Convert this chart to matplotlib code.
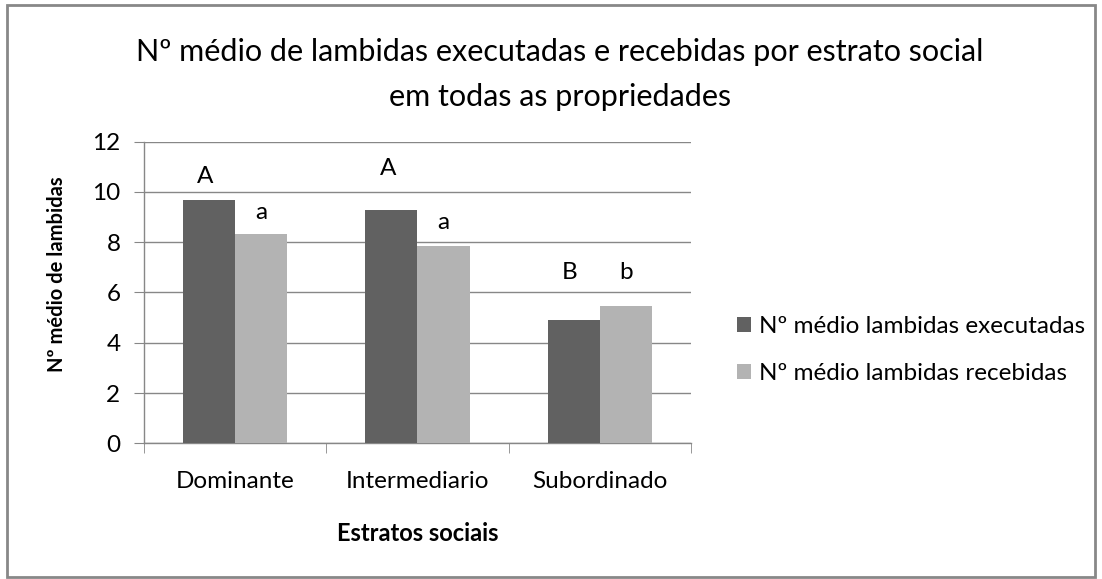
import matplotlib
matplotlib.use("Agg")
import matplotlib.pyplot as plt
from matplotlib.patches import Rectangle
import numpy as np

# ── Data ──────────────────────────────────────────────────────────────────────
categories = ["Dominante", "Intermediario", "Subordinado"]
executadas = [9.68, 9.28, 4.91]
recebidas = [8.33, 7.85, 5.47]
series_names = ["Nº médio lambidas executadas", "Nº médio lambidas recebidas"]
letters_exec = ["A", "A", "B"]
letters_exec_y = [10.6, 10.95, 6.78]
letters_rec = ["a", "a", "b"]
letters_rec_y = [9.2, 8.8, 6.78]
yticks = [0, 2, 4, 6, 8, 10, 12]
title_lines = ["Nº médio de lambidas executadas e recebidas por estrato social",
               "em todas as propriedades"]

DARK = "#616161"
LIGHT = "#b3b3b3"
GRID = "#878787"
FS = 17.5

plt.rcParams["font.family"] = ["Lato", "DejaVu Sans"]

fig = plt.figure(figsize=(11.02, 5.79), dpi=100)
ax = fig.add_axes([0.1307, 0.2344, 0.4963, 0.5209])

x = np.arange(len(categories))
w = 1 / 3.5
ax.bar(x - w / 2, executadas, w, color=DARK, label=series_names[0], zorder=3)
ax.bar(x + w / 2, recebidas, w, color=LIGHT, label=series_names[1], zorder=3)

# significance letters above the bars
for xi, t, y in zip(x, letters_exec, letters_exec_y):
    ax.text(xi - w / 2 - 0.02, y, t, ha="center", va="center", fontsize=FS)
for xi, t, y in zip(x, letters_rec, letters_rec_y):
    ax.text(xi + w / 2, y, t, ha="center", va="center", fontsize=FS)

ax.set_xlim(-0.5, len(categories) - 0.5)
ax.set_ylim(0, 12)
ax.set_yticks(yticks)
ax.yaxis.grid(True, color=GRID, linewidth=1, zorder=0)
ax.set_axisbelow(True)

ax.set_xticks(x)
ax.set_xticklabels(categories, fontsize=FS)
ax.set_xticks(np.arange(-0.5, len(categories)), minor=True)
ax.tick_params(axis="x", which="major", length=0, pad=20)
ax.tick_params(axis="x", which="minor", length=7, color=GRID, direction="out")
ax.tick_params(axis="y", length=7, color=GRID, labelsize=FS, pad=10)

for s in ["top", "right"]:
    ax.spines[s].set_visible(False)
for s in ["left", "bottom"]:
    ax.spines[s].set_color(GRID)
    ax.spines[s].set_linewidth(1)

ax.set_xlabel("Estratos sociais", fontsize=17, fontweight="bold")
ax.xaxis.set_label_coords(0.5, -0.262)
fig.text(57 / 1102, 1 - 274 / 579, "Nº médio de lambidas", rotation=90,
         ha="center", va="center", fontsize=14.5, fontweight="bold")

fig.text(0.508, 1 - 52 / 579, title_lines[0], ha="center", va="center", fontsize=22)
fig.text(0.508, 1 - 97 / 579, title_lines[1], ha="center", va="center", fontsize=22)

fig.legend(loc="center left", bbox_to_anchor=(0.669, 0.3955), frameon=False,
           fontsize=FS, handlelength=0.58, handleheight=0.58, labelspacing=1.05,
           handletextpad=0.3, borderpad=0, borderaxespad=0)

fig.patches.append(Rectangle((0.0064, 0.0035), 0.9872, 0.9879, transform=fig.transFigure,
                             fill=False, edgecolor="#888888", linewidth=2))

fig.savefig("out.png", dpi=100)
